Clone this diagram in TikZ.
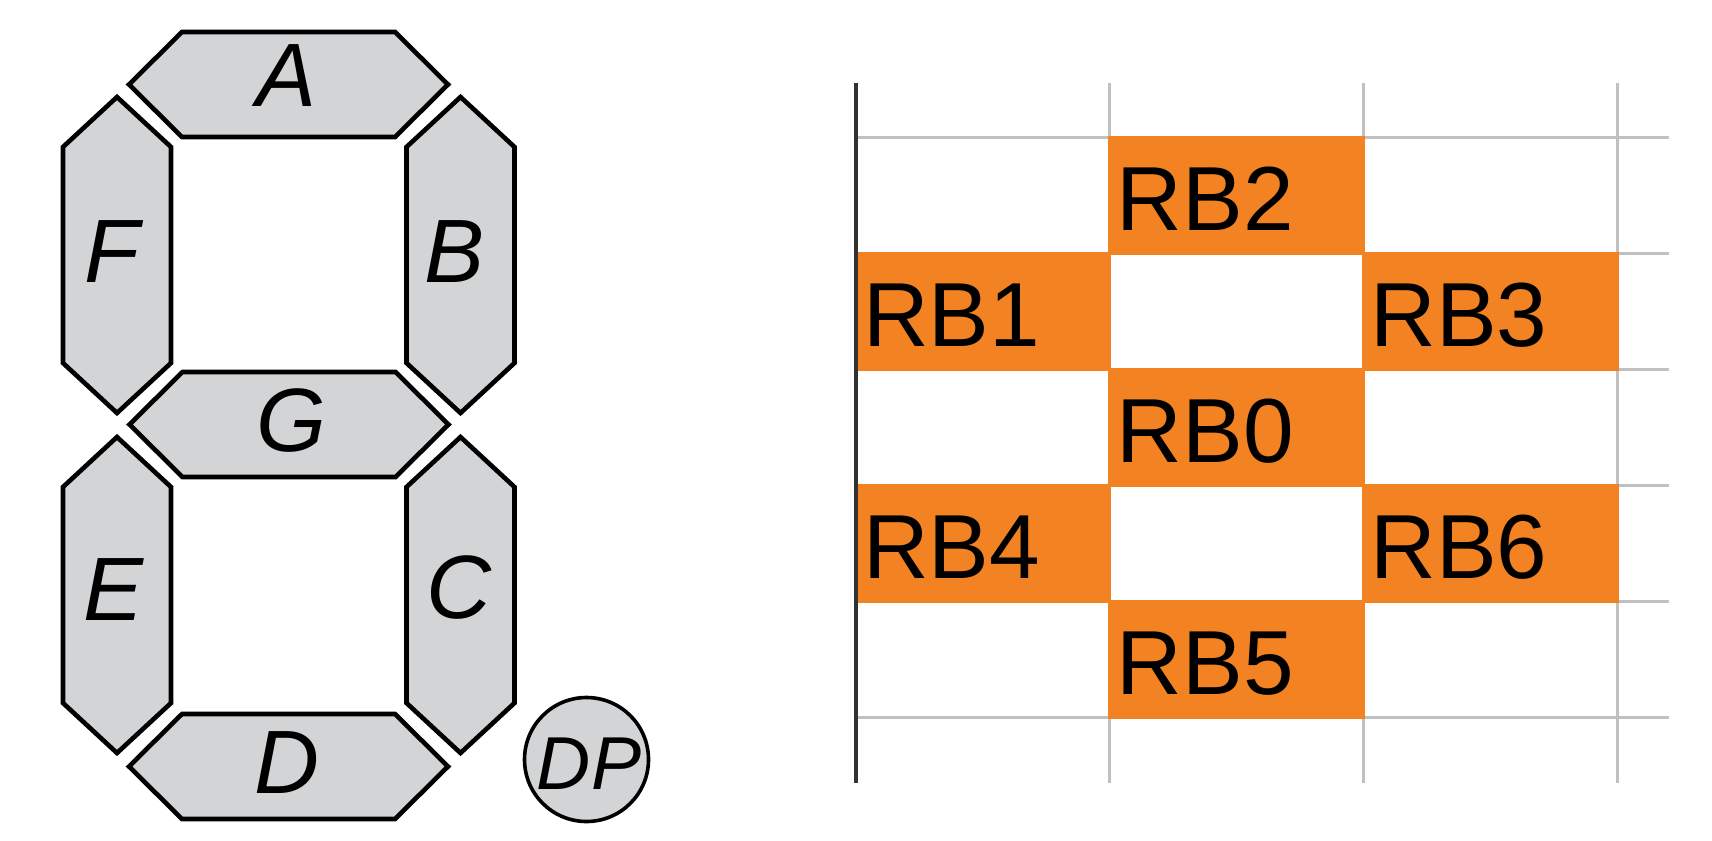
\documentclass[tikz,border=0pt]{standalone}
\usepackage{fontspec}
\setmainfont{Liberation Sans}
\usepackage{tikz}
\definecolor{SegGray}{HTML}{D3D4D6}
\definecolor{CellOrange}{HTML}{F38322}
\definecolor{GridGray}{HTML}{C0C0C0}
\definecolor{AxisDark}{HTML}{333333}

\begin{document}
\begin{tikzpicture}[
  x=1pt,y=-1pt,
  segment/.style={draw=black,fill=SegGray,line width=4.6pt},
  seglabel/.style={font=\fontsize{90}{100}\selectfont\itshape,inner sep=0pt},
  gridline/.style={draw=GridGray,line width=3pt},
  axisline/.style={draw=AxisDark,line width=3.2pt},
  cell/.style={fill=CellOrange},
  pinlabel/.style={font=\fontsize{91}{100}\selectfont,inner sep=0pt,anchor=base west}
]
  \useasboundingbox (0,0) rectangle (1712,840);

  % Horizontal segments A, G, D
  \foreach \cx/\cy in {288.5/84.5, 289/424.5, 288.5/766.5}
    \draw[segment] (\cx-159.5,\cy) -- ++(53,-52.5) -- ++(213,0) -- ++(53,52.5)
      -- ++(-53,52.5) -- ++(-213,0) -- cycle;
  % Vertical segments F, B, E, C
  \foreach \cx/\cy in {117/255, 460.5/255, 117/595, 460.5/595}
    \draw[segment] (\cx,\cy-158) -- ++(54,50) -- ++(0,216) -- ++(-54,50)
      -- ++(-54,-50) -- ++(0,-216) -- cycle;

  \node[seglabel] (labA) at (287,76)  {A};
  \node[seglabel] (labG) at (291,421) {G};
  \node[seglabel] (labD) at (287,763) {D};
  \node[seglabel] (labF) at (112,252) {F};
  \node[seglabel] (labB) at (455,252) {B};
  \node[seglabel] (labE) at (114,590) {E};
  \node[seglabel] (labC) at (459,588) {C};

  % Decimal point
  \draw[segment,line width=3.6pt] (586.5,759.5) circle (62);
  \node[seglabel,font=\fontsize{75}{80}\selectfont\itshape] (labDP) at (589,764) {DP};

  % Grid of port pins
  \foreach \x in {1109.7,1363.3,1617}
    \draw[gridline] (\x,83) -- (\x,783);
  \foreach \y in {137,253,369,485,601,717}
    \draw[gridline] (856,\y) -- (1669,\y);

  \foreach \r/\c/\pin in {1/2/RB2, 2/1/RB1, 2/3/RB3, 3/2/RB0, 4/1/RB4, 4/3/RB6, 5/2/RB5} {
    \fill[cell] (854.5+253.67*\c-253.67,19.5+116*\r) rectangle ++(256.67,119);
    \node[pinlabel] (\pin) at (863+253.67*\c-253.67,114+116*\r) {\pin};
  }

  \draw[axisline] (856,83) -- (856,783);
\end{tikzpicture}
\end{document}
